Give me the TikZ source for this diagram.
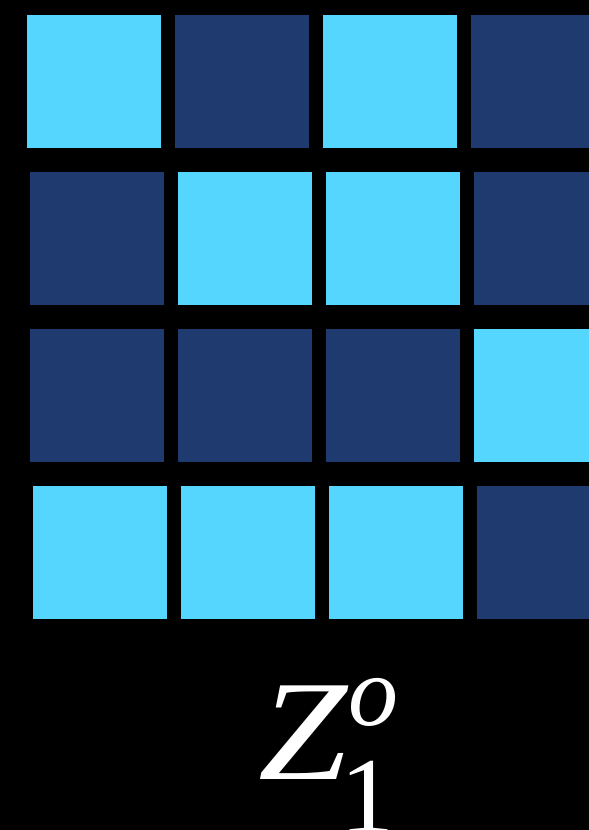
\documentclass[tikz,border=0pt]{standalone}
\usepackage{fontspec}
\setmainfont{Liberation Serif}
\definecolor{lite}{RGB}{85,214,255}
\definecolor{dark}{RGB}{30,58,110}
\tikzset{
  cell/.style={rectangle, inner sep=0pt, outer sep=0pt, minimum width=134pt, minimum height=133pt, anchor=north west},
  L/.style={cell, fill=lite},
  D/.style={cell, fill=dark},
  glyph/.style={inner sep=0pt, outer sep=0pt, text=white, anchor=base west}
}
\begin{document}
\begin{tikzpicture}[x=1pt,y=-1pt]
\fill[black] (0,0) rectangle (589,830);
\useasboundingbox (0,0) rectangle (589,830);
\clip (0,0) rectangle (589,830);
% row 1
\node[L] (s11) at (27,15) {};
\node[D] (s12) at (175,15) {};
\node[L] (s13) at (323,15) {};
\node[D] (s14) at (471,15) {};
% row 2
\node[D] (s21) at (30,172) {};
\node[L] (s22) at (178,172) {};
\node[L] (s23) at (326,172) {};
\node[D] (s24) at (474,172) {};
% row 3
\node[D] (s31) at (30,329) {};
\node[D] (s32) at (178,329) {};
\node[D] (s33) at (326,329) {};
\node[L] (s34) at (474,329) {};
% row 4
\node[L] (s41) at (33,486) {};
\node[L] (s42) at (181,486) {};
\node[L] (s43) at (329,486) {};
\node[D] (s44) at (477,486) {};
% label
\node[glyph, xscale=1.12] (zmain) at (258,779) {\fontsize{143}{143}\selectfont\itshape Z};
\node[glyph] (zsup) at (348,725) {\fontsize{100}{100}\selectfont\itshape o};
\node[glyph] (zsub) at (340,832) {\fontsize{108}{108}\selectfont 1};
\end{tikzpicture}
\end{document}
